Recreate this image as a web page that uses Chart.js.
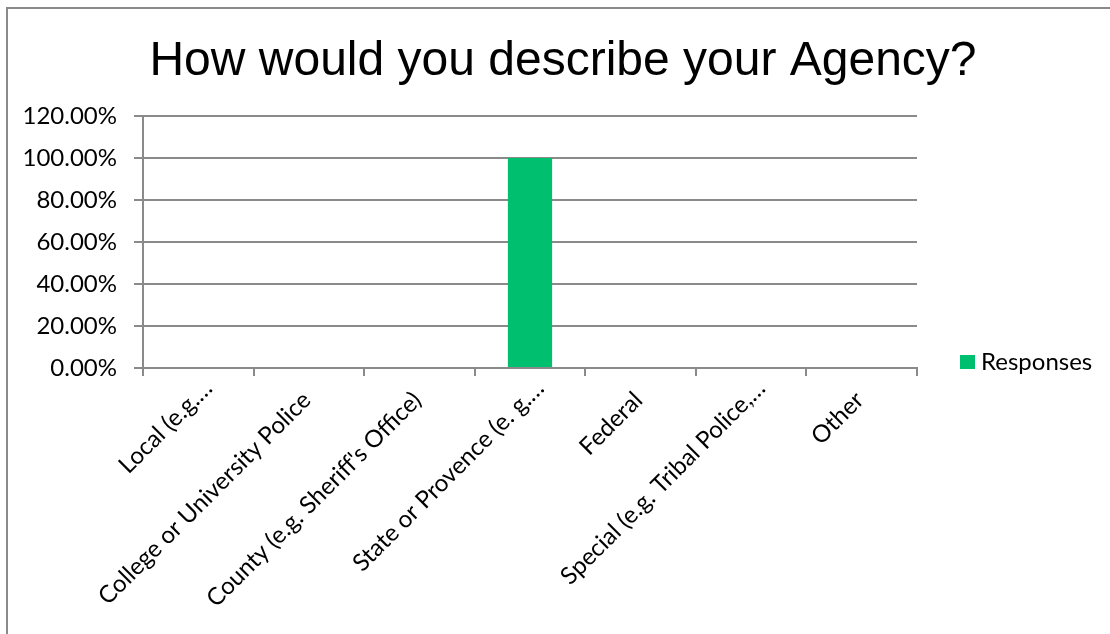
<!DOCTYPE html>
<html>
<head>
<meta charset="utf-8">
<script src="https://cdn.jsdelivr.net/npm/chart.js@4.4.1/dist/chart.umd.min.js"></script>
<style>
  html, body { margin: 0; padding: 0; background: #ffffff; }
  #wrap { position: relative; width: 1110px; height: 634px; overflow: hidden; }
  #frame { position: absolute; left: 6px; top: 7px; width: 1200px; height: 700px;
           border-left: 2px solid #8a8a8a; border-top: 2px solid #8a8a8a; }
  #c { position: absolute; left: 0; top: 0; }
</style>
</head>
<body>
<div id="wrap">
  <div id="frame"></div>
  <canvas id="c" width="1110" height="634"></canvas>
</div>
<script>
// Survey question and answer options
const chartTitle = "How would you describe your Agency?";
const categories = [
  "Local (e.g.…",
  "College or University Police",
  "County (e.g. Sheriff's Office)",
  "State or Provence (e. g.…",
  "Federal",
  "Special (e.g. Tribal Police,…",
  "Other"
];
const seriesName = "Responses";
const responses = [0, 0, 0, 100, 0, 0, 0];   // percent of respondents
const yTicks = [0, 20, 40, 60, 80, 100, 120];

const GREEN = "#00bf6f";
const GRID = "#8a8a8a";
const TEXT = "#000000";
const LABEL_FONT = "Lato";

// Title and legend drawn on top of the chart
const decorations = {
  id: "decorations",
  afterDraw(chart) {
    const ctx = chart.ctx;
    ctx.save();
    ctx.fillStyle = TEXT;
    ctx.font = "48px 'Liberation Sans', Arial, sans-serif";
    ctx.textAlign = "center";
    ctx.textBaseline = "alphabetic";
    ctx.fillText(chartTitle, 563, 75);

    const ds = chart.data.datasets[0];
    ctx.fillStyle = ds.backgroundColor;
    ctx.fillRect(960, 355, 15, 14);
    ctx.fillStyle = TEXT;
    ctx.font = "24px " + LABEL_FONT;
    ctx.textAlign = "left";
    ctx.textBaseline = "middle";
    ctx.fillText(ds.label, 981, 362);
    ctx.restore();
  }
};

// Shortened category labels (ending in an ellipsis) sit a little further
// up-right along their slant than the full-length ones.
const ellipsisLabelShift = {
  id: "ellipsisLabelShift",
  beforeDraw(chart) {
    const scale = chart.scales.x;
    const items = scale.getLabelItems(chart.chartArea);
    if (items._shifted) return;
    items._shifted = true;
    items.forEach(it => {
      if (String(it.label).endsWith("…")) {
        const t = it.options.translation;
        it.options.translation = [t[0] + 12, t[1] - 12];
      }
    });
  }
};

new Chart(document.getElementById("c"), {
  type: "bar",
  data: {
    labels: categories,
    datasets: [{
      label: seriesName,
      data: responses,
      backgroundColor: GREEN,
      borderWidth: 0,
      barPercentage: 0.4,
      categoryPercentage: 1.0
    }]
  },
  options: {
    responsive: false,
    animation: false,
    events: [],
    layout: { padding: { top: 116, right: 193, bottom: 0, left: 0 } },
    plugins: {
      legend: { display: false },
      title: { display: false },
      tooltip: { enabled: false }
    },
    scales: {
      x: {
        grid: {
          offset: true,
          drawOnChartArea: false,
          drawTicks: true,
          tickLength: 8,
          color: GRID,
          lineWidth: 2
        },
        border: { color: GRID, width: 2 },
        ticks: {
          color: TEXT,
          font: { family: LABEL_FONT, size: 24 },
          minRotation: 45,
          maxRotation: 45,
          autoSkip: false,
          padding: 10,
          labelOffset: -2
        },
        afterFit(scale) { scale.height = 266; }
      },
      y: {
        min: 0,
        max: 120,
        afterBuildTicks(scale) { scale.ticks = yTicks.map(v => ({ value: v })); },
        grid: {
          color: GRID,
          lineWidth: 2,
          drawTicks: true,
          tickLength: 9
        },
        border: { color: GRID, width: 2 },
        ticks: {
          color: TEXT,
          font: { family: LABEL_FONT, size: 24 },
          padding: 17,
          callback: v => v.toFixed(2) + "%"
        },
        afterFit(scale) { scale.width = 143; }
      }
    }
  },
  plugins: [decorations, ellipsisLabelShift]
});
</script>
</body>
</html>
